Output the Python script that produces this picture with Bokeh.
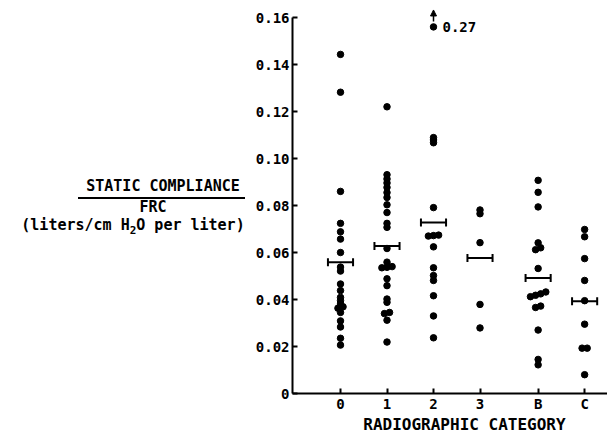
import numpy as np
from bokeh.plotting import figure
from bokeh.layouts import row
from bokeh.models import Label, Arrow, NormalHead, FixedTicker, Range1d, Div
from bokeh.embed import file_html
from bokeh.resources import INLINE

# ---------------- data ----------------
categories = ["0", "1", "2", "3", "B", "C"]
cat_pos = [0, 1, 2, 3, 4.25, 5.25]

cat_0 = [0.1443, 0.1282, 0.0860, 0.0724, 0.0688, 0.0657, 0.0600, 0.0538, 0.0521,
         0.0466, 0.0438, 0.0409, 0.0395, 0.0381, 0.0369, 0.0363, 0.0345, 0.0309,
         0.0283, 0.0235, 0.0206]
cat_1 = [0.1220, 0.0931, 0.0913, 0.0896, 0.0877, 0.0855, 0.0834, 0.0803, 0.0770,
         0.0724, 0.0707, 0.0617, 0.0559, 0.0540, 0.0537, 0.0535, 0.0488, 0.0459,
         0.0402, 0.0388, 0.0345, 0.0340, 0.0312, 0.0219]
cat_2 = [0.1560, 0.1089, 0.1079, 0.1067, 0.0791, 0.0674, 0.0672, 0.0670, 0.0624,
         0.0535, 0.0502, 0.0481, 0.0416, 0.0330, 0.0237]
cat_3 = [0.0781, 0.0765, 0.0642, 0.0379, 0.0279]
cat_B = [0.0907, 0.0856, 0.0794, 0.0641, 0.0620, 0.0612, 0.0532, 0.0432, 0.0424,
         0.0418, 0.0412, 0.0372, 0.0366, 0.0270, 0.0145, 0.0122]
cat_C = [0.0698, 0.0667, 0.0574, 0.0481, 0.0395, 0.0295, 0.0193, 0.0193, 0.0080]
series = [cat_0, cat_1, cat_2, cat_3, cat_B, cat_C]

means = [0.0559, 0.0628, 0.0728, 0.0577, 0.0492, 0.0393]

outlier_category = "2"
outlier_plotted = 0.1560
outlier_label = "0.27"

y_ticks = [0, 0.02, 0.04, 0.06, 0.08, 0.10, 0.12, 0.14, 0.16]
y_tick_labels = ["0", "0.02", "0.04", "0.06", "0.08", "0.10", "0.12", "0.14", "0.16"]

x_title = "RADIOGRAPHIC CATEGORY"

# ---------------- layout ----------------
FONT = "DejaVu Sans Mono"
DIV_W = 252                      # left title column
AXIS_GAP = 40                    # figure's own left border (y tick labels)
FRAME_W = 315
FIG_W = AXIS_GAP + FRAME_W       # 355
FRAME_H = 393
BOTTOM = 43
FIG_H = FRAME_H + BOTTOM         # 436
PX_X = 46.5
x_start = -48 / PX_X
x_end = x_start + FRAME_W / PX_X
PX_Y = (FRAME_H - 17) / 0.16
y_end = FRAME_H / PX_Y

p = figure(width=FIG_W, height=FIG_H, output_backend="svg", toolbar_location=None,
           title=None, x_range=Range1d(x_start, x_end), y_range=Range1d(0, y_end),
           min_border_left=AXIS_GAP, min_border_right=0, min_border_top=0,
           min_border_bottom=BOTTOM)
p.outline_line_color = None
p.xgrid.visible = False
p.ygrid.visible = False
p.background_fill_color = "white"

for ax in (p.xaxis[0], p.yaxis[0]):
    ax.axis_line_width = 2
    ax.axis_line_color = "black"
    ax.major_tick_line_width = 2
    ax.major_tick_in = 5
    ax.major_tick_out = 0
    ax.minor_tick_line_color = None
    ax.major_label_text_font = FONT
    ax.major_label_text_font_style = "bold"
    ax.major_label_text_color = "black"

p.yaxis.ticker = FixedTicker(ticks=y_ticks)
p.yaxis.major_label_overrides = {t: l for t, l in zip(y_ticks, y_tick_labels)}
p.yaxis.bounds = (0, 0.16)
p.yaxis.major_label_text_font_size = "14px"
p.yaxis.major_label_standoff = 3

p.xaxis.ticker = FixedTicker(ticks=cat_pos)
p.xaxis.major_label_overrides = {t: l for t, l in zip(cat_pos, categories)}
p.xaxis.major_label_text_font_size = "14px"
p.xaxis.major_label_standoff = 2
# leading no-break spaces shift the centred title to the right, as in the original
p.xaxis.axis_label = "\u00a0\u00a0\u00a0" + x_title
p.xaxis.axis_label_text_font = FONT
p.xaxis.axis_label_text_font_style = "bold"
p.xaxis.axis_label_text_font_size = "16px"
p.xaxis.axis_label_text_color = "black"
p.xaxis.axis_label_standoff = 0


def swarm(vals, thresh=0.0009, step=0.11):
    offs = [0.0] * len(vals)
    order = sorted(range(len(vals)), key=lambda i: vals[i])
    groups, cur = [], [order[0]]
    for i in order[1:]:
        if vals[i] - vals[cur[-1]] < thresh:
            cur.append(i)
        else:
            groups.append(cur)
            cur = [i]
    groups.append(cur)
    for g in groups:
        k = len(g)
        for j, i in enumerate(g):
            offs[i] = (j - (k - 1) / 2) * step
    return offs


xs, ys = [], []
for pos, vals in zip(cat_pos, series):
    for o, v in zip(swarm(vals), vals):
        xs.append(pos + o)
        ys.append(v)
p.scatter(xs, ys, size=6.5, color="black")

HALF = 0.27
p.segment(x0=[c - HALF for c in cat_pos], y0=means, x1=[c + HALF for c in cat_pos], y1=means,
          line_width=2, line_color="black")
cap_x = [c - HALF for c in cat_pos] + [c + HALF for c in cat_pos]
p.scatter(cap_x, means + means, marker="dash", size=8, angle=np.pi / 2,
          line_width=2, line_color="black")

ox = cat_pos[categories.index(outlier_category)]
p.add_layout(Arrow(end=NormalHead(size=6, fill_color="black", line_color="black"),
                   x_start=ox, y_start=outlier_plotted + 0.0023,
                   x_end=ox, y_end=outlier_plotted + 0.0072,
                   line_width=1.5, line_color="black"))
p.add_layout(Label(x=ox, y=outlier_plotted, x_offset=9, text=outlier_label,
                   text_font=FONT, text_font_style="bold", text_font_size="14px",
                   text_baseline="middle", text_align="left", text_color="black"))


# ---------------- y-axis title (a fraction) in a Div to the left ----------------
def block(txt, cx, cy, w, size=15, lh=13):
    left = cx - w / 2
    top = cy - lh / 2
    return (f'<div style="position:absolute;left:{left:.1f}px;top:{top:.1f}px;width:{w}px;'
            f'height:{lh}px;line-height:{lh}px;text-align:center;font-size:{size}px;'
            f'white-space:nowrap;">{txt}</div>')


html = (
    f'<div style="position:relative;width:{DIV_W}px;height:{FIG_H}px;'
    f"font-family:'DejaVu Sans Mono',monospace;font-weight:bold;color:black;\">"
    + block("STATIC COMPLIANCE", 163, 186, 200)
    + '<div style="position:absolute;left:78px;top:197px;width:167px;'
      'height:0;border-top:2px solid black;"></div>'
    + block("FRC", 153, 207, 60)
    + block('(liters/cm H<sub style="font-size:11px;line-height:0;vertical-align:-4px;">2</sub>O per liter)',
            133, 225, 240)
    + "</div>"
)
div = Div(text=html, width=DIV_W, height=FIG_H, margin=0)

layout = row(div, p, spacing=0)
open("out.html", "w").write(file_html(layout, INLINE))
